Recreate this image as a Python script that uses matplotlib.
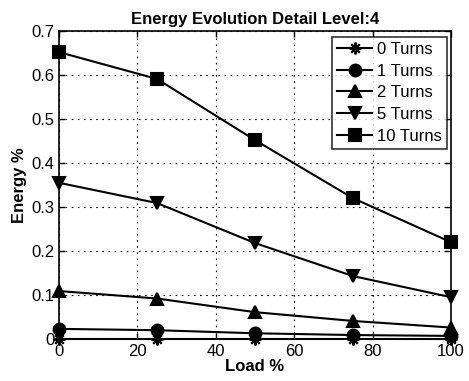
import matplotlib
matplotlib.use("Agg")
import matplotlib.pyplot as plt

plt.rcParams['font.family'] = ['Liberation Sans', 'DejaVu Sans']

load = [0, 25, 50, 75, 100]
turns_0 = [0.001, 0.001, 0.001, 0.001, 0.001]
turns_1 = [0.023, 0.020, 0.013, 0.009, 0.007]
turns_2 = [0.109, 0.092, 0.061, 0.041, 0.026]
turns_5 = [0.355, 0.309, 0.218, 0.143, 0.095]
turns_10 = [0.652, 0.591, 0.452, 0.320, 0.220]
labels = ['0 Turns', '1 Turns', '2 Turns', '5 Turns', '10 Turns']
markers = [(8, 2, 0), 'o', '^', 'v', 's']
series = [turns_0, turns_1, turns_2, turns_5, turns_10]

W, H = 469, 381
fig = plt.figure(figsize=(W/100, H/100), dpi=100)
ax = fig.add_axes([59/W, 1-339/H, (451-59)/W, (339-31)/H])
for s, lab, m in zip(series, labels, markers):
    ax.plot(load, s, color='black', lw=1.5, marker=m, ms=8.5, mew=1.5,
            label=lab, clip_on=False, zorder=3)

ax.set_xlim(0, 100)
ax.set_ylim(0, 0.7)
ax.set_xticks([0, 20, 40, 60, 80, 100])
ax.set_yticks([0, 0.1, 0.2, 0.3, 0.4, 0.5, 0.6, 0.7])
ax.set_yticklabels(['0', '0.1', '0.2', '0.3', '0.4', '0.5', '0.6', '0.7'])
ax.grid(True, color='black', linestyle=(0, (1.5, 4)), lw=0.8)
ax.tick_params(direction='in', labelsize=12, length=4, width=1, top=True, right=True, pad=3.5)
for sp in ax.spines.values():
    sp.set_linewidth(1.2)
ax.set_xlabel('Load %', fontsize=12, fontweight='bold', labelpad=0)
ax.set_ylabel('Energy %', fontsize=12, fontweight='bold', labelpad=3)
ax.set_title('Energy Evolution Detail Level:4', fontsize=12, fontweight='bold', pad=5)
leg = ax.legend(loc='upper right', bbox_to_anchor=(447/W, 1-37/H), bbox_transform=fig.transFigure,
                fontsize=12, frameon=True, fancybox=False, edgecolor='black',
                handlelength=2.1, handletextpad=0.3, labelspacing=0.4, borderpad=0.3, borderaxespad=0)
leg.get_frame().set_linewidth(1.2)
fig.savefig('out.png', dpi=100)
